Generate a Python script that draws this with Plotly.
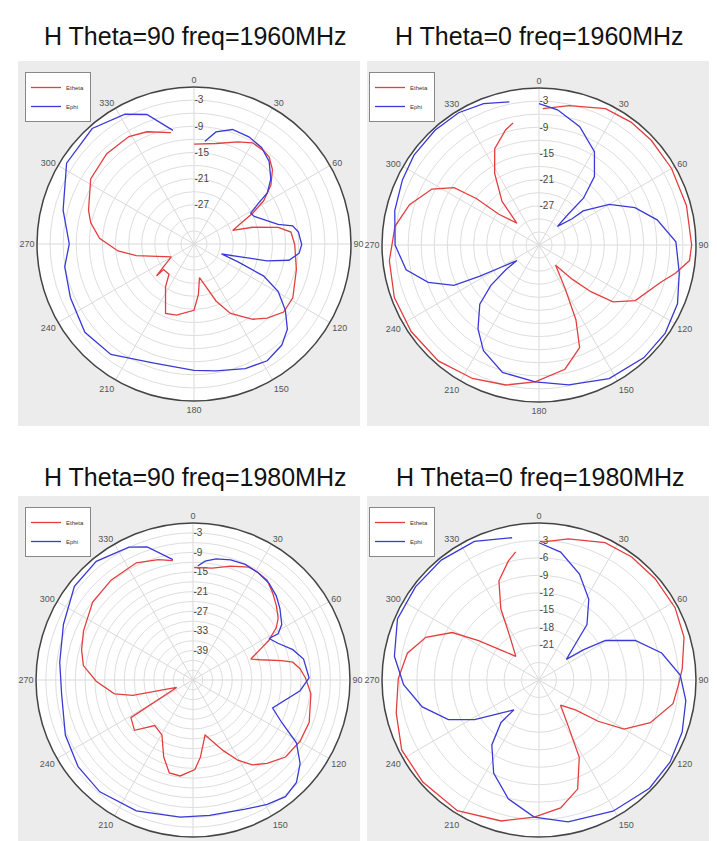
import plotly.graph_objects as go

# ---------------- data (angle in degrees, gain in dB) ----------------
titles = ["H Theta=90 freq=1960MHz", "H Theta=0 freq=1960MHz",
          "H Theta=90 freq=1980MHz", "H Theta=0 freq=1980MHz"]
series_names = ["Etheta", "Ephi"]
angle_ticks = [0, 30, 60, 90, 120, 150, 180, 210, 240, 270, 300, 330]

# Plot 1 : H Theta=90, 1960 MHz
p1_etheta_ang = [0, 12.4, 23.3, 30, 36.7, 40.7, 46.5, 52.6, 58.2, 62.3, 65.8, 70.7, 74.1, 78.8, 83, 90.4,
                 104, 118.6, 127.2, 135.4, 142, 152.3, 158.9, 165, 170.7, 175, 180, 193.9, 202.3, 213.6,
                 219.5, 230, 229.6, 240.3, 258.7, 264.8, 273.4, 281.7, 287.8, 302.2, 316, 328.8, 337.3, 348.3]
p1_etheta_db = [-13.1, -12.4, -10.5, -9.2, -9.3, -9.6, -11.2, -13.8, -17.2, -20.8, -24.0, -26.6, -22.0, -16.3, -13.6, -12.9,
                -11.8, -10.2, -10.2, -12.1, -14.1, -18.0, -22.0, -26.2, -28.2, -24.4, -20.8, -19.2, -18.8, -24.2,
                -27.0, -26.9, -24.7, -30.0, -22.5, -18.5, -14.3, -11.8, -10.6, -8.0, -7.2, -7.2, -8.1, -9.9]
p1_ephi_ang = [6.1, 11.1, 18.6, 27.1, 35, 42.3, 49.7, 55.1, 57.9, 61.5, 65.4, 76.8, 79.6, 83.5, 90.3, 95,
               99.7, 103, 110, 112, 114.7, 119.5, 126, 132.4, 139, 147.9, 157.6, 170.2, 180, 198.5, 217,
               231, 246.5, 260, 270, 284.5, 302.4, 318.6, 332, 340, 349.5]
p1_ephi_db = [-12.3, -9.8, -8.3, -8.4, -9.0, -10.4, -12.9, -15.5, -18.7, -21.2, -20.8, -16.2, -13.0, -11.9, -11.3, -11.8,
              -13.9, -18.8, -29.3, -25.1, -18.4, -13.8, -10.1, -7.0, -5.3, -4.4, -5.1, -6.5, -7.0, -7.2, -4.3,
              -3.8, -5.1, -5.9, -7.4, -5.0, -1.4, -0.7, -2.3, -4.4, -9.5]

# Plot 2 : H Theta=0, 1960 MHz
p2_etheta_ang = [1.6, 12.2, 26, 36.8, 47, 60, 75, 90, 95.9, 101.6, 107, 120, 127.5, 132, 135.8, 140.6,
                 149, 153.7, 158.4, 168.2, 181.6, 193.4, 206.5, 221, 235.9, 250, 264, 277.4, 287.3,
                 297.6, 304, 306.6, 307.4, 314.6, 319.7, 328.2, 335.3, 343.9, 348]
p2_etheta_db = [-4.7, -3.3, -1.2, -0.8, -0.8, -0.9, -1.0, -1.0, -1.3, -4.0, -6.8, -10.5, -14.6, -20.0, -25.0, -30.0,
                -24.4, -16.9, -10.7, -6.9, -4.6, -3.0, -1.8, -0.8, -0.6, -0.7, -1.5, -2.7, -4.9,
                -8.3, -12.5, -18.1, -24.3, -28.9, -22.9, -16.7, -11.7, -8.5, -7.4]
p2_ephi_ang = [0, 7.8, 19, 30.7, 39, 43.5, 43.5, 44.8, 51.6, 52.3, 60, 68.7, 78, 88.7, 101.3, 113, 124.9,
               137, 152.3, 168, 181.6, 196, 207.7, 216, 225, 230, 233.3, 235, 239.4, 242.2, 244.6, 251.4,
               259.4, 270, 283.4, 295.5, 305.7, 317.8, 328.7, 338.6, 348.3]
p2_ephi_db = [-3.6, -4.7, -7.3, -11.1, -15.8, -21.2, -26.2, -30.0, -26.3, -23.2, -17.4, -12.4, -8.3, -4.6, -3.2, -1.5, -0.7,
              -0.7, -1.4, -3.2, -4.6, -5.6, -8.6, -12.2, -16.8, -21.6, -26.5, -29.8, -26.2, -20.7, -14.4, -9.2,
              -5.0, -3.0, -2.0, -1.3, -0.7, -0.5, -0.5, -1.2, -2.5]

# Plot 3 : H Theta=90, 1980 MHz
p3_etheta_ang = [0.6, 9.8, 18.3, 26.3, 31.1, 36.6, 42.4, 48.1, 54, 57.8, 62.4, 65.6, 70.1, 73.2, 77.7, 79.9,
                 84, 89, 96.7, 110, 119.8, 129.8, 138.4, 145, 150.8, 156.8, 167.6, 174.5, 178.8, 187.6,
                 194.3, 200.8, 209.5, 220, 229.3, 238.8, 245.6, 255.7, 260, 269.3, 277.5, 285.2, 294.2,
                 307.7, 320.6, 334.2, 343.9, 350.4]
p3_etheta_db = [-13.6, -13.3, -11.3, -9.5, -9.6, -10.0, -11.9, -13.8, -15.8, -17.9, -21.8, -25.5, -29.2, -26.6, -20.3, -17.0,
                -15.1, -13.6, -11.7, -10.2, -10.3, -11.2, -13.9, -16.3, -19.9, -24.5, -30.8, -24.3, -20.6, -18.4,
                -18.7, -22.8, -28.7, -29.8, -24.4, -25.8, -42.5, -29.0, -23.6, -18.4, -14.2, -12.7, -11.3,
                -9.2, -8.5, -8.2, -9.7, -11.0]
p3_ephi_ang = [2.4, 5.8, 10.8, 17.4, 24.3, 31.1, 38.2, 44.7, 50.6, 58, 61.5, 61.4, 66.6, 73.1, 79.3, 89,
               95.7, 109.4, 115.5, 121.3, 127.9, 134.7, 141.6, 149.2, 158, 173, 185.4, 203.4, 219.8, 233,
               246.7, 264, 277.6, 293.2, 308.3, 320.8, 334.3, 341, 350.5]
p3_ephi_db = [-13.1, -11.5, -10.3, -9.5, -9.2, -9.6, -10.4, -11.8, -13.6, -16.0, -18.4, -21.5, -19.7, -16.1, -13.6, -12.5,
              -15.1, -22.2, -18.0, -11.0, -6.5, -3.5, -2.5, -3.7, -5.4, -6.3, -5.9, -4.4, -3.5, -4.0,
              -5.5, -7.6, -6.9, -4.9, -1.8, -1.2, -2.9, -5.0, -10.7]

# Plot 4 : H Theta=0, 1980 MHz
p4_etheta_ang = [1, 11.7, 25.7, 37, 49, 62, 73.6, 85.6, 92, 100, 111, 120, 124.9, 129.3, 139.4, 147.5,
                 152.5, 160.5, 170.4, 182, 195, 212, 228.7, 243, 257, 270.6, 281.5, 290.7, 298.7, 303,
                 308.2, 315.6, 326, 331.8, 338, 345.5, 349.7]
p4_etheta_db = [-3.3, -2.2, -0.8, -0.5, -0.5, -0.5, -1.0, -2.3, -3.0, -3.6, -6.5, -10.1, -14.6, -18.9, -21.3, -17.7,
                -12.0, -7.1, -4.7, -3.4, -1.9, -0.5, -0.4, -0.5, -1.8, -2.8, -3.9, -6.2, -10.0, -14.6,
                -18.7, -21.3, -18.1, -13.1, -8.6, -5.9, -4.6]
p4_ephi_ang = [0, 9.6, 20.9, 31.7, 40.9, 45.2, 53, 55.8, 59.3, 67.7, 77.6, 88, 98, 110, 122, 134.4,
               150.6, 168.4, 182, 194.5, 206, 216, 221.8, 220, 229, 238.4, 246.4, 257, 268, 279.3,
               293.3, 307, 320.8, 335, 349.3]
p4_ephi_db = [-3.4, -4.7, -7.5, -10.7, -14.4, -18.1, -21.1, -17.8, -13.7, -9.1, -5.4, -2.7, -1.5, -0.8, -0.4, -0.4,
              -1.1, -2.1, -3.4, -5.9, -9.2, -13.2, -17.2, -20.3, -18.3, -14.0, -10.0, -6.4, -3.7, -1.8,
              -0.5, -0.4, -0.4, -0.7, -2.1]

# radial scales: (min dB, labelled ticks)
radial_min = [-36, -36, -48, -27]
radial_labels = [[-3, -9, -15, -21, -27],
                 [-3, -9, -15, -21, -27],
                 [-3, -9, -15, -21, -27, -33, -39],
                 [-3, -6, -9, -12, -15, -18, -21]]
# the bottom row is cut off below 210/150 in the source, so 180 is not shown there
show_180 = [True, True, False, False]

plots = [
    (p1_etheta_ang, p1_etheta_db, p1_ephi_ang, p1_ephi_db),
    (p2_etheta_ang, p2_etheta_db, p2_ephi_ang, p2_ephi_db),
    (p3_etheta_ang, p3_etheta_db, p3_ephi_ang, p3_ephi_db),
    (p4_etheta_ang, p4_etheta_db, p4_ephi_ang, p4_ephi_db),
]

# ---------------- layout geometry (pixels) ----------------
W, H = 717, 841
D = 314
centers = [(186, 236), (531, 237), (185, 672), (531, 672)]
title_pos = [(187, 28), (531, 28), (187, 469), (532, 469)]
panels = [(10, 53, 352, 418), (359, 53, 708, 418), (10, 488, 352, 836), (359, 488, 708, 836)]
legend_pos = [(17, 64), (361, 64), (17, 499), (361, 499)]

RED = "rgb(228,62,62)"
BLUE = "rgb(58,58,215)"

fig = go.Figure()
layout = dict(width=W, height=H, margin=dict(l=0, r=0, t=0, b=0),
              paper_bgcolor="white", plot_bgcolor="white",
              font=dict(family="Liberation Sans, Arial, sans-serif"),
              shapes=[], annotations=[])

for i, (ea, ed, pa, pd_) in enumerate(plots):
    pid = "polar" if i == 0 else f"polar{i+1}"
    lid = "legend" if i == 0 else f"legend{i+1}"
    fig.add_trace(go.Scatterpolar(r=ed, theta=ea, mode="lines", name=series_names[0],
                                  line=dict(color=RED, width=1.3), subplot=pid, legend=lid))
    fig.add_trace(go.Scatterpolar(r=pd_, theta=pa, mode="lines", name=series_names[1],
                                  line=dict(color=BLUE, width=1.3), subplot=pid, legend=lid))
    cx, cy = centers[i]
    rmin = radial_min[i]
    ticks = list(range(-3, rmin, -3))
    ticktext = [str(t) if t in radial_labels[i] else "" for t in ticks]
    ang_text = [("" if (a == 180 and not show_180[i]) else str(a)) for a in angle_ticks]
    layout[pid] = dict(
        domain=dict(x=[(cx - D / 2) / W, (cx + D / 2) / W],
                    y=[(H - cy - D / 2) / H, (H - cy + D / 2) / H]),
        bgcolor="white",
        angularaxis=dict(direction="clockwise", rotation=90, tickvals=angle_ticks,
                         ticktext=ang_text,
                         tickfont=dict(size=9, color="#555"), showline=True,
                         linecolor="#444", linewidth=1.5, gridcolor="#d9d9d9",
                         ticks="", layer="below traces"),
        radialaxis=dict(range=[rmin, 0], tickvals=ticks, ticktext=ticktext,
                        angle=90, tickangle=90, showline=False, ticks="",
                        tickfont=dict(size=10, color="#444"), gridcolor="#dedede",
                        layer="below traces"),
    )
    x0, y0, x1, y1 = panels[i]
    layout["shapes"].append(dict(type="rect", xref="paper", yref="paper",
                                 x0=x0 / W, x1=x1 / W, y0=1 - y1 / H, y1=1 - y0 / H,
                                 fillcolor="#ececec", line=dict(width=0), layer="below"))
    tx, ty = title_pos[i]
    layout["annotations"].append(dict(text=titles[i], x=tx / W, y=1 - ty / H, xref="paper", yref="paper",
                                      xanchor="center", yanchor="middle", showarrow=False,
                                      font=dict(size=25, color="#111")))
    lx, ly = legend_pos[i]
    layout[lid] = dict(x=lx / W, y=1 - ly / H, xanchor="left", yanchor="top",
                       bgcolor="white", bordercolor="#888", borderwidth=1,
                       font=dict(size=6, color="#333"), tracegroupgap=0,
                       itemwidth=30)

fig.update_layout(**layout)
fig.write_html("out.html")
